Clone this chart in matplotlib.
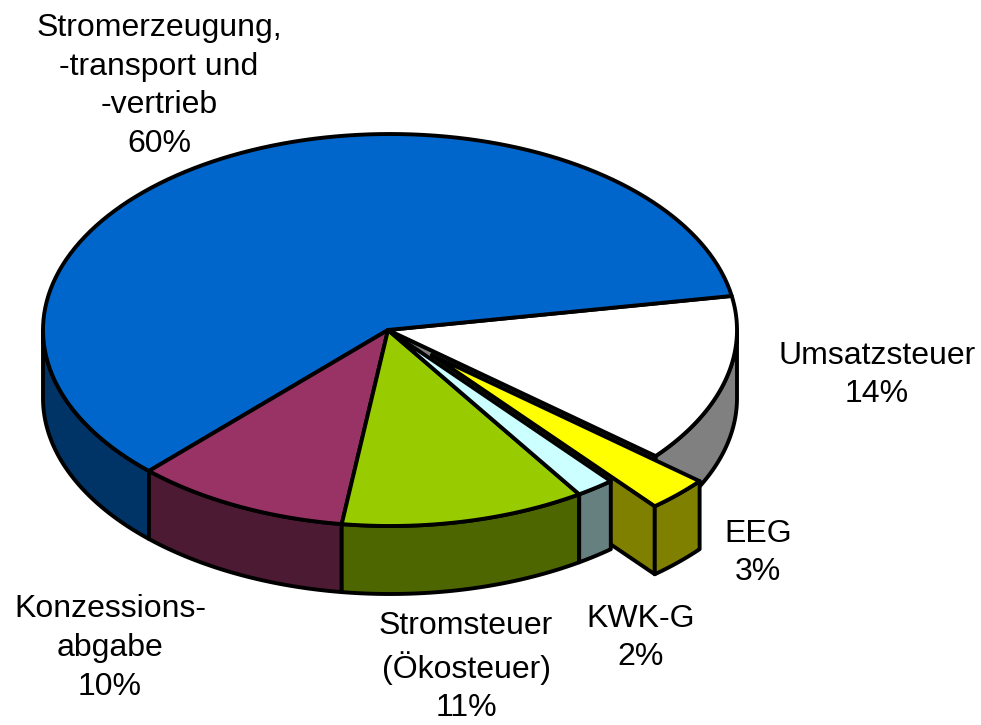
import matplotlib
matplotlib.use('Agg')

import matplotlib.pyplot as plt
from matplotlib.patches import Polygon
import numpy as np

plt.rcParams['font.family'] = ['Liberation Sans', 'DejaVu Sans']

# clockwise from the start angle
labels = ['Umsatzsteuer\n14%', 'EEG\n3%', 'KWK-G\n2%', 'Stromsteuer\n(Ökosteuer)\n11%',
          'Konzessions-\nabgabe\n10%', 'Stromerzeugung,\n-transport und\n-vertrieb\n60%']
shares = [13.9, 2.9, 1.8, 11.4, 10, 60]
explode = [0, 0.18, 0, 0, 0, 0]
top_colors = ['#FFFFFF', '#FFFF00', '#CCFFFF', '#99CC00', '#993366', '#0066CC']
side_colors = ['#808080', '#808000', '#668080', '#4D6600', '#4D1A33', '#003366']
label_pos = [(877, 375), (758, 553), (641, 638), (466, 667), (110, 648), (159, 86)]

cx, cy = 390, 330
hub_x = 388
rx, ry = 347, 196
depth = 68
start = 10.0
lw = 2.8

fig = plt.figure(figsize=(9.81, 7.25), dpi=100)
ax = fig.add_axes([0, 0, 1, 1])
ax.set_xlim(0, 981)
ax.set_ylim(725, 0)
ax.axis('off')


def arc(a0, a1, ox=0, oy=0):
    t = np.radians(np.linspace(a0, a1, 120))
    return np.column_stack([cx + ox + rx * np.cos(t), cy + oy - ry * np.sin(t)])


def poly(pts, color, z):
    ax.add_patch(Polygon(pts, closed=True, fc=color, ec='black', lw=lw, joinstyle='round', zorder=z))


def top(i, z):
    ox, oy = offs[i]
    pts = np.vstack([[hub_x + ox, cy + oy], arc(angles[i], angles[i + 1], ox, oy)])
    poly(pts, top_colors[i], z)


def outer_wall(i, z):
    # only the part of the rim that faces the viewer
    a0, a1 = angles[i], angles[i + 1]
    ox, oy = offs[i]
    lo, hi = max(a1, -180), min(a0, 0)
    if lo >= hi:
        return
    pts = arc(hi, lo, ox, oy)
    poly(np.vstack([pts, pts[::-1] + [0, depth]]), side_colors[i], z)


def radial_wall(i, angle, z):
    ox, oy = offs[i]
    edge = arc(angle, angle, ox, oy)[0]
    hub = np.array([hub_x + ox, cy + oy])
    poly([hub, edge, edge + [0, depth], hub + [0, depth]], side_colors[i], z)


fracs = np.array(shares) / sum(shares)
angles = start - 360 * np.concatenate([[0], np.cumsum(fracs)])
offs = []
for i, e in enumerate(explode):
    mid = np.radians((angles[i] + angles[i + 1]) / 2)
    offs.append((e * rx * np.cos(mid), -e * ry * np.sin(mid)))

# back to front
radial_wall(0, angles[1], 1)
outer_wall(0, 2)
top(0, 3)
radial_wall(1, angles[2], 4)
for i in [5, 4, 3, 2]:
    outer_wall(i, 5)
for i in [5, 4, 3, 2]:
    top(i, 6)
outer_wall(1, 7)
top(1, 8)

for s, (x, y) in zip(labels, label_pos):
    ax.text(x, y, s, ha='center', va='center', fontsize=23, linespacing=1.37, color='black', zorder=10)

plt.savefig('out.png', dpi=100)
plt.close()
